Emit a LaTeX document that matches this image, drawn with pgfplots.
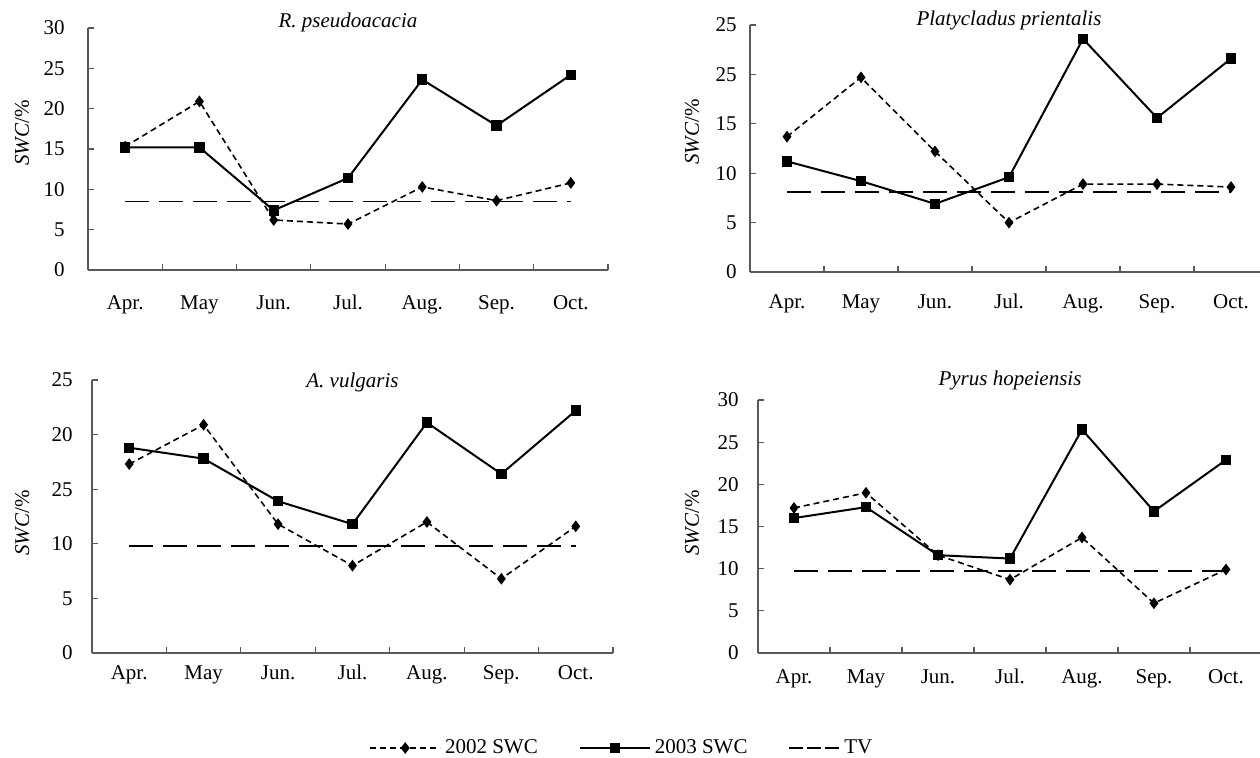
\documentclass[border=0pt]{standalone}
\usepackage{fontspec}
\setmainfont{Liberation Serif}
\usepackage{pgfplots}
\pgfplotsset{compat=1.18}

% 1 px of the reference = 0.5pt
\pgfplotsset{
  swc/.style={
    scale only axis,
    anchor=south west,
    clip=false,
    xmin=0, xmax=7,
    xtick={0,...,7},
    x tick label as interval,
    xticklabels={Apr.,May,Jun.,Jul.,Aug.,Sep.,Oct.},
    ymin=0,
    tick align=inside,
    major tick length=3pt,
    axis lines*=left,
    axis line style={black!65, line width=0.6pt},
    every tick/.style={black!65, line width=0.6pt},
    ylabel={\textit{SWC}/\%},
    y label style={rotate=0, anchor=center},
    every axis title shift=0pt,
    title style={font=\itshape, anchor=center},
  },
  y2002/.style={black, line width=0.8pt, dash pattern=on 3pt off 2pt,
    mark=diamond*, mark size=2.3pt, mark options={solid}},
  y2003/.style={black, line width=1pt,
    mark=square*, mark size=2.1pt, mark options={solid}},
  tv/.style={black, line width=0.9pt, dash pattern=on 12pt off 5pt, no markers},
}

\begin{document}
\fontsize{10.5}{12}\selectfont
\begin{tikzpicture}
\useasboundingbox (0,0) rectangle (630pt,-378.5pt);

% R. pseudoacacia
\begin{axis}[swc,
  at={(44pt,-135pt)}, width=260pt, height=121pt,
  ymax=30, ytick={0,5,...,30}, yticklabels={0,5,10,15,20,25,30},
  yticklabel style={xshift=-8pt},
  xticklabel style={yshift=-9pt},
  y label style={at={(axis description cs:-0.127,0.566)}},
  title={R. pseudoacacia},
  title style={at={(axis description cs:0.5,1)}, yshift=3pt},
]
\addplot[y2002] coordinates {(0.5,15.3) (1.5,20.9) (2.5,6.2) (3.5,5.7) (4.5,10.3) (5.5,8.6) (6.5,10.8)};
\addplot[y2003] coordinates {(0.5,15.2) (1.5,15.2) (2.5,7.4) (3.5,11.4) (4.5,23.6) (5.5,17.9) (6.5,24.2)};
\addplot[tv] coordinates {(0.5,8.5) (6.5,8.5)};
\end{axis}

% Platycladus prientalis
\begin{axis}[swc,
  at={(375pt,-136pt)}, width=259pt, height=123.5pt,
  ymax=25, ytick={0,5,...,25}, yticklabels={0,5,10,15,25,25},
  yticklabel style={xshift=-3pt},
  xticklabel style={yshift=-7.5pt},
  y label style={at={(axis description cs:-0.112,0.567)}},
  title={Platycladus prientalis},
  title style={at={(axis description cs:0.5,1)}, yshift=2.5pt},
]
\addplot[y2002] coordinates {(0.5,13.7) (1.5,19.7) (2.5,12.2) (3.5,5.0) (4.5,8.9) (5.5,8.9) (6.5,8.6)};
\addplot[y2003] coordinates {(0.5,11.2) (1.5,9.2) (2.5,6.9) (3.5,9.6) (4.5,23.6) (5.5,15.6) (6.5,21.6)};
\addplot[tv] coordinates {(0.5,8.1) (6.5,8.1)};
\end{axis}

% A. vulgaris
\begin{axis}[swc,
  at={(46pt,-326.5pt)}, width=260.5pt, height=136.5pt,
  ymax=25, ytick={0,5,...,25}, yticklabels={0,5,10,25,20,25},
  yticklabel style={xshift=-6pt},
  xticklabel style={yshift=-2.5pt},
  y label style={at={(axis description cs:-0.134,0.476)}},
  title={A. vulgaris},
  title style={at={(axis description cs:0.5,1)}, yshift=-1pt},
  legend columns=3,
  legend style={draw=none, fill=none, at={(axis description cs:1.019,-0.348)},
    anchor=center, font=\fontsize{10.5}{12}\selectfont,
    /tikz/every even column/.append style={column sep=18.5pt}},
  legend image code/.code={\draw[mark repeat=2,mark phase=2,#1]
    plot coordinates {(0pt,0pt) (17.5pt,0pt) (35pt,0pt)};},
]
\addplot[y2002] coordinates {(0.5,17.3) (1.5,20.9) (2.5,11.8) (3.5,8.0) (4.5,12.0) (5.5,6.8) (6.5,11.6)};
\addlegendentry{2002 SWC}
\addplot[y2003] coordinates {(0.5,18.8) (1.5,17.8) (2.5,13.9) (3.5,11.8) (4.5,21.1) (5.5,16.4) (6.5,22.2)};
\addlegendentry{2003 SWC}
\addplot[tv, forget plot] coordinates {(0.5,9.8) (6.5,9.8)};
\addlegendimage{legend image code/.code={\draw[black, line width=0.9pt,
  dash pattern=on 7pt off 2pt] (0pt,0pt) -- (25pt,0pt);}}
\addlegendentry{TV}
\end{axis}

% Pyrus hopeiensis
\begin{axis}[swc,
  at={(379pt,-326.5pt)}, width=252pt, height=126.5pt,
  ymax=30, ytick={0,5,...,30}, yticklabels={0,5,10,15,20,25,30},
  yticklabel style={xshift=-6pt},
  xticklabel style={yshift=-4.5pt},
  y label style={at={(axis description cs:-0.131,0.514)}},
  title={Pyrus hopeiensis},
  title style={at={(axis description cs:0.5,1)}, yshift=10pt},
]
\addplot[y2002] coordinates {(0.5,17.2) (1.5,19.0) (2.5,11.6) (3.5,8.7) (4.5,13.7) (5.5,5.9) (6.5,9.9)};
\addplot[y2003] coordinates {(0.5,16.0) (1.5,17.3) (2.5,11.6) (3.5,11.2) (4.5,26.5) (5.5,16.8) (6.5,22.9)};
\addplot[tv] coordinates {(0.5,9.7) (6.5,9.7)};
\end{axis}
\end{tikzpicture}
\end{document}
